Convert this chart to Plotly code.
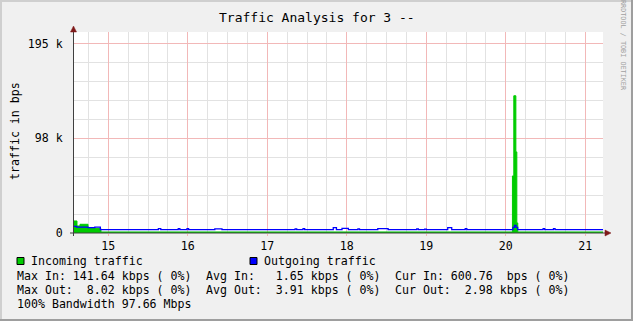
import plotly.graph_objects as go

# ---------------- data (x = day of month, y = bits per second) ----------------
in_t = [14.556, 14.606, 14.644, 14.745, 14.833, 14.908, 20.084, 20.101, 20.127, 20.139, 20.151, 21.223]
in_v = [12700, 7400, 9200, 5700, 4650, 1100, 60300, 145000, 85700, 10600, 1100, 1100]

out_t = [14.556, 14.60, 14.745, 14.83, 14.90, 15.63, 15.66, 15.88, 15.90, 15.99, 16.01,
         16.34, 16.43, 17.35, 17.37, 17.45, 17.47, 17.83, 17.87, 17.94, 18.02, 18.14,
         18.16, 18.39, 18.52, 18.88, 18.90, 18.98, 19.00, 19.27, 19.32, 19.49, 19.51,
         20.09, 20.11, 20.13, 20.15, 20.47, 20.49, 20.60, 20.62, 21.223]
out_v = [7000, 6200, 5700, 6300, 3600, 4600, 3600, 4600, 3600, 4600, 3600,
         4300, 3600, 4300, 3600, 4600, 3600, 5600, 3600, 4800, 3600, 4400,
         3600, 4600, 3600, 4300, 3600, 4200, 3600, 5600, 3600, 4600, 3600,
         6000, 8100, 6000, 3600, 4600, 3600, 4600, 3600, 3600]

y_tickvals = [0, 100000, 200000]
y_ticktext = ["0", "98 k", "195 k"]

title_text = "Traffic Analysis for 3 --"
y_label = "traffic in bps"
series_names = ["Incoming traffic", "Outgoing traffic"]
row_in = ["Max In: 141.64 kbps ( 0%)", "Avg In:   1.65 kbps ( 0%)", "Cur In: 600.76  bps ( 0%)"]
row_out = ["Max Out:  8.02 kbps ( 0%)", "Avg Out:  3.91 kbps ( 0%)", "Cur Out:  2.98 kbps ( 0%)"]
row_bw = "100% Bandwidth 97.66 Mbps"
watermark = "RRDTOOL / TOBI OETIKER"

# ---------------- layout geometry ----------------
W, H = 633, 321
L, R, T, B = 73, 30, 32, 88
PW, PH = W - L - R, H - T - B
FONT = "DejaVu Sans Mono"
GREEN, BLUE = "#00CC00", "#0000FF"
ARROW = "#7F1A1A"


def px(x):
    return (x - L) / PW


def py(y):
    return (H - B - y) / PH


def nb(s):
    return s.replace(" ", "\u00a0")


fig = go.Figure()
fig.add_trace(go.Scatter(x=in_t, y=in_v, mode="lines", line=dict(color=GREEN, width=1, shape="hv"),
                         fill="tozeroy", fillcolor=GREEN, name=series_names[0], showlegend=False,
                         hoverinfo="skip"))
fig.add_trace(go.Scatter(x=out_t, y=out_v, mode="lines", line=dict(color=BLUE, width=1.3, shape="hv"),
                         name=series_names[1], showlegend=False, hoverinfo="skip"))

fig.update_layout(
    width=W, height=H,
    margin=dict(l=L, r=R, t=T, b=B, pad=0),
    paper_bgcolor="#F0F0F0", plot_bgcolor="#FFFFFF",
    font=dict(family=FONT, size=11.6, color="#000000"),
    showlegend=False,
)
fig.update_xaxes(
    range=[14.556, 21.223], tickmode="linear", tick0=15, dtick=1,
    showgrid=True, gridcolor="#F2B8B8", gridwidth=1,
    minor=dict(tickmode="linear", tick0=15, dtick=0.25, showgrid=True, gridcolor="#E2E2E2"),
    showline=False, zeroline=False, ticks="outside", ticklen=2, tickcolor="#F2B8B8",
    tickfont=dict(family=FONT, size=11.6), fixedrange=True,
)
fig.update_yaxes(
    range=[0, 212400], tickmode="array", tickvals=y_tickvals, ticktext=y_ticktext,
    showgrid=True, gridcolor="#F2B8B8", gridwidth=1,
    minor=dict(tickmode="linear", tick0=0, dtick=20000, showgrid=True, gridcolor="#E2E2E2"),
    showline=False, zeroline=False, ticks="outside", ticklen=3, tickcolor="rgba(0,0,0,0)",
    ticklabelstandoff=4, tickfont=dict(family=FONT, size=11.6), fixedrange=True,
)

shapes = []
# axes lines
shapes.append(dict(type="line", xref="paper", yref="paper", x0=px(73.5), x1=px(73.5), y0=py(236), y1=py(30),
                   line=dict(color="#404040", width=1)))
shapes.append(dict(type="line", xref="paper", yref="paper", x0=px(70), x1=px(606), y0=py(233), y1=py(233),
                   line=dict(color="#404040", width=1)))
# arrows
shapes.append(dict(type="path", xref="paper", yref="paper",
                   path=f"M {px(73.5)} {py(26)} L {px(70.5)} {py(32)} L {px(76.5)} {py(32)} Z",
                   fillcolor=ARROW, line=dict(color=ARROW, width=0.5)))
shapes.append(dict(type="path", xref="paper", yref="paper",
                   path=f"M {px(611)} {py(233)} L {px(605)} {py(230)} L {px(605)} {py(236)} Z",
                   fillcolor=ARROW, line=dict(color=ARROW, width=0.5)))
# image frame (3D shading)
shapes.append(dict(type="rect", xref="paper", yref="paper", x0=px(0), x1=px(2), y0=py(H), y1=py(0),
                   fillcolor="#CFCFCF", line=dict(width=0), layer="above"))
shapes.append(dict(type="rect", xref="paper", yref="paper", x0=px(0), x1=px(W), y0=py(2), y1=py(0),
                   fillcolor="#CFCFCF", line=dict(width=0), layer="above"))
shapes.append(dict(type="rect", xref="paper", yref="paper", x0=px(W - 2), x1=px(W), y0=py(H), y1=py(0),
                   fillcolor="#9E9E9E", line=dict(width=0), layer="above"))
shapes.append(dict(type="rect", xref="paper", yref="paper", x0=px(0), x1=px(W), y0=py(H), y1=py(H - 2),
                   fillcolor="#9E9E9E", line=dict(width=0), layer="above"))
# legend swatches
for sx, col in [(17, GREEN), (250, BLUE)]:
    shapes.append(dict(type="rect", xref="paper", yref="paper", x0=px(sx), x1=px(sx + 7), y0=py(264.5), y1=py(257.5),
                       fillcolor=col, line=dict(color="#000000", width=1)))
fig.update_layout(shapes=shapes)

ann = []


def text(x, y, s, size=11.6, color="#000000", anchor="left", angle=0):
    ann.append(dict(xref="paper", yref="paper", x=px(x), y=py(y), text=nb(s), showarrow=False,
                    xanchor=anchor, yanchor="middle", textangle=angle, borderpad=0,
                    font=dict(family=FONT, size=size, color=color)))


text(W / 2, 17, title_text, size=13, anchor="center")
text(15, 131, y_label, size=11.6, anchor="center", angle=-90)
text(623, 45, watermark, size=6.8, color="#A0A0A0", anchor="center", angle=90)
text(30, 261, series_names[0])
text(263, 261, series_names[1])
for i, xx in enumerate([16, 205, 394]):
    text(xx, 275.5, row_in[i])
    text(xx, 289.5, row_out[i])
text(16, 303.5, row_bw)
fig.update_layout(annotations=ann)

fig.write_html("out.html")
